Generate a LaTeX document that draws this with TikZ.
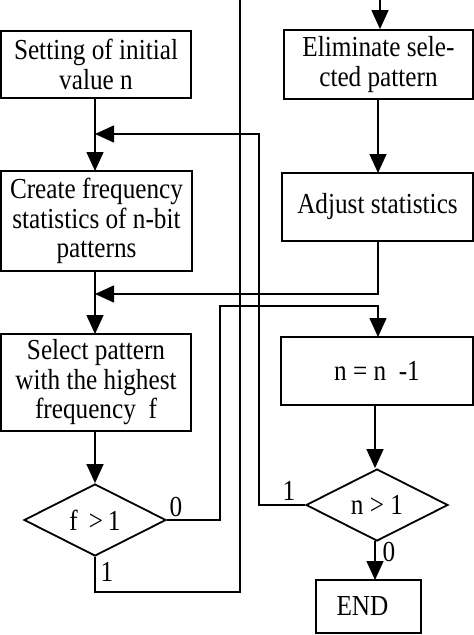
\documentclass[tikz,border=0pt]{standalone}
\usepackage{fontspec}
\setmainfont{Liberation Serif}[FakeStretch=0.87]
\usetikzlibrary{arrows.meta,shapes.geometric}
\begin{document}
\begin{tikzpicture}[x=1pt,y=-1pt,
  box/.style={draw,line width=1.8pt,inner sep=0pt,align=center,font=\fontsize{29}{29.5}\selectfont},
  dia/.style={draw,diamond,line width=1.8pt,inner sep=0pt,font=\fontsize{29}{29.5}\selectfont},
  lbl/.style={font=\fontsize{29}{29.5}\selectfont,inner sep=0pt},
  conn/.style={line width=1.4pt},
  arr/.style={conn,-{Triangle[length=19pt,width=17pt]}}]
\useasboundingbox (0,0) rectangle (474,635);
% boxes
\node[box,minimum width=190pt,minimum height=67pt] (b1) at (96,64.5) {Setting of initial\\value n};
\node[box,minimum width=191pt,minimum height=100pt] (b2) at (96.5,221) {Create frequency\\statistics of n-bit\\patterns};
\node[box,minimum width=190pt,minimum height=97pt] (b3) at (96,382.5) {Select pattern\\with the highest\\frequency\ \ f};
\node[dia,minimum width=142pt,minimum height=72pt] (d1) at (95,520) {f\ \,>\,1};
\node[box,minimum width=189pt,minimum height=69pt] (b4) at (378.5,64.5) {Eliminate sele-\\cted pattern};
\node[box,minimum width=191pt,minimum height=68pt] (b5) at (377.5,207) {Adjust statistics};
\node[box,minimum width=192pt,minimum height=68pt] (b6) at (377,371) {n = n \ -1};
\node[dia,minimum width=142pt,minimum height=72pt] (d2) at (377,505) {n > 1};
\node[box,minimum width=105pt,minimum height=53pt] (e) at (368.5,606.5) {END\hspace*{12pt}};
% coordinates
\coordinate (t4) at (380,0);
\coordinate (top1) at (240,0);
\coordinate (j1) at (95,134);
\coordinate (j2) at (95,294);
% connectors
\draw[arr] (t4) -- (t4 |- b4.north);
\draw[arr] (95,98) -- (95,171);
\draw[arr] (d2.west) -- (d2.west -| 259,0) -- (259,134) -- (j1);
\draw[arr] (378,241) -- (378,294) -- (j2);
\draw[arr] (95,271) -- (95,334);
\draw[arr] (95,431) -- (d1.north);
\draw[arr] (d1.east) -- (220,520) -- (220,306) -- (378,306) -- (378,337);
\draw[conn] (d1.south) -- (95,592) -- (240,592) -- (top1);
\draw[arr] (378,99) -- (378,173);
\draw[arr] (375,405) -- (d2.north -| 375,0);
\draw[arr] (375,541) -- (375,580);
% labels
\node[lbl] (l0a) at (176,507) {0};
\node[lbl] (l1a) at (107,572) {1};
\node[lbl] (l1b) at (289,491) {1};
\node[lbl] (l0b) at (389,552) {0};
\end{tikzpicture}
\end{document}
